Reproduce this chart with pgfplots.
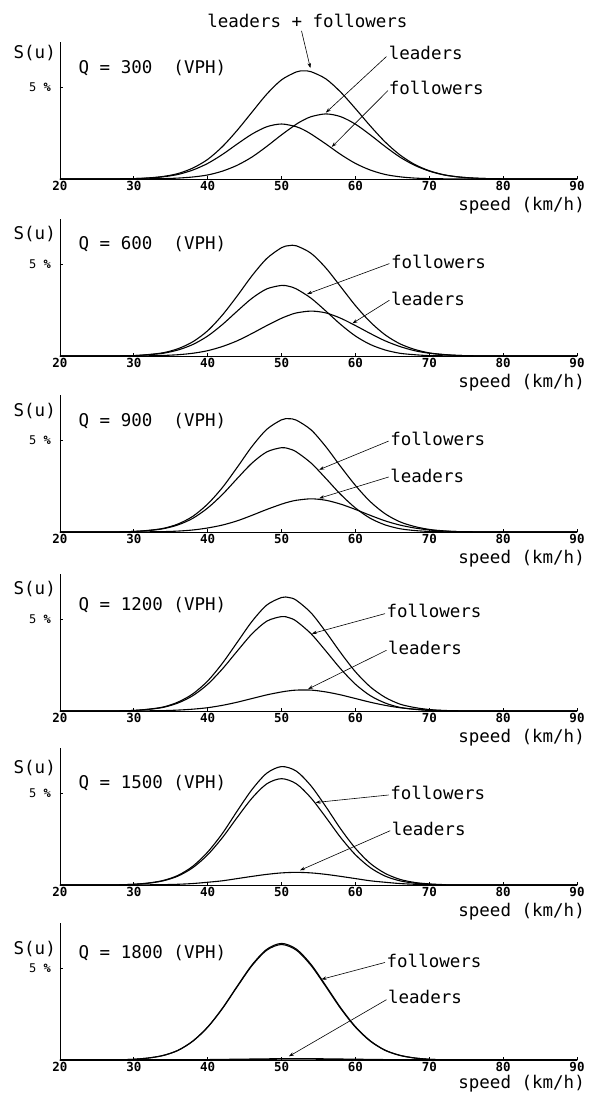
\documentclass[border=0pt]{standalone}
\usepackage{fontspec}
\usepackage{pgfplots}
\pgfplotsset{compat=1.18}
\usepackage{pgfplotstable}
\usetikzlibrary{arrows.meta}
\newfontfamily\plotfont{DejaVu Sans Mono}
\newcommand\labelfont{\plotfont\fontsize{17.5}{20}\selectfont}
\newcommand\tickfont{\plotfont\bfseries\fontsize{12.5}{14}\selectfont}
\newcommand\pctfont{\plotfont\fontsize{12}{13}\selectfont}

% u = speed, F = followers, L = leaders, S = leaders + followers (percent)
\pgfplotstableread{
u F L S
20 0 0 0
26 0.00 0.00 0.00
28 0.01 0.00 0.01
30 0.02 0.00 0.02
32 0.05 0.01 0.06
34 0.12 0.02 0.14
36 0.25 0.05 0.30
38 0.49 0.11 0.60
40 0.85 0.22 1.07
42 1.34 0.43 1.77
44 1.91 0.75 2.66
46 2.45 1.20 3.65
48 2.85 1.78 4.63
50 3.00 2.41 5.41
52 2.85 2.99 5.84
53 2.68 3.22 5.90
54 2.45 3.40 5.85
56 1.91 3.55 5.46
58 1.34 3.40 4.74
60 0.85 2.99 3.84
62 0.49 2.41 2.90
64 0.25 1.78 2.03
66 0.12 1.20 1.32
68 0.05 0.75 0.80
70 0.02 0.43 0.45
72 0.01 0.22 0.23
74 0.00 0.11 0.11
76 0.00 0.05 0.05
78 0.00 0.02 0.02
80 0.00 0.01 0.01
90 0 0 0
}\tabA
\pgfplotstableread{
u F L S
20 0 0 0
26 0.00 0.00 0.00
28 0.01 0.00 0.01
30 0.02 0.00 0.02
32 0.07 0.01 0.08
34 0.15 0.03 0.18
36 0.33 0.07 0.40
38 0.63 0.15 0.78
40 1.09 0.29 1.38
42 1.72 0.52 2.24
44 2.45 0.83 3.28
46 3.15 1.23 4.38
48 3.66 1.66 5.32
50 3.85 2.06 5.91
51 3.80 2.22 6.02
52 3.66 2.35 6.01
54 3.15 2.45 5.60
56 2.45 2.35 4.80
58 1.72 2.06 3.78
60 1.09 1.66 2.75
62 0.63 1.23 1.86
64 0.33 0.83 1.16
66 0.15 0.52 0.67
68 0.07 0.29 0.36
70 0.02 0.15 0.17
72 0.01 0.07 0.08
74 0.00 0.03 0.03
76 0.00 0.01 0.01
78 0 0 0
90 0 0 0
}\tabB
\pgfplotstableread{
u F L S
20 0 0 0
26 0.00 0.00 0.00
28 0.01 0.00 0.01
30 0.03 0.00 0.03
32 0.08 0.01 0.09
34 0.18 0.02 0.20
36 0.39 0.05 0.44
38 0.75 0.11 0.86
40 1.31 0.22 1.53
42 2.05 0.38 2.43
44 2.92 0.61 3.53
46 3.76 0.91 4.67
48 4.37 1.23 5.60
50 4.60 1.52 6.12
51 4.54 1.64 6.18
52 4.37 1.73 6.10
54 3.76 1.81 5.57
56 2.92 1.73 4.65
58 2.05 1.52 3.57
60 1.31 1.23 2.54
62 0.75 0.91 1.66
64 0.39 0.61 1.00
66 0.18 0.38 0.56
68 0.08 0.22 0.30
70 0.03 0.11 0.14
72 0.01 0.05 0.06
74 0.00 0.02 0.02
76 0.00 0.01 0.01
78 0 0 0
90 0 0 0
}\tabC
\pgfplotstableread{
u F L S
20 0 0 0
26 0.00 0.00 0.00
28 0.01 0.00 0.01
30 0.03 0.00 0.03
32 0.09 0.01 0.10
34 0.20 0.02 0.22
36 0.44 0.05 0.49
38 0.84 0.10 0.94
40 1.46 0.18 1.64
42 2.30 0.31 2.61
44 3.27 0.48 3.75
46 4.21 0.68 4.89
48 4.90 0.88 5.78
50 5.15 1.04 6.19
51 5.09 1.10 6.19
52 4.90 1.14 6.04
54 4.21 1.14 5.35
56 3.27 1.04 4.31
58 2.30 0.88 3.18
60 1.46 0.68 2.14
62 0.84 0.48 1.32
64 0.44 0.31 0.75
66 0.20 0.18 0.38
68 0.09 0.10 0.19
70 0.03 0.05 0.08
72 0.01 0.02 0.03
74 0.00 0.01 0.01
76 0 0 0
90 0 0 0
}\tabD
\pgfplotstableread{
u F L S
20 0 0 0
26 0.00 0.00 0.00
28 0.01 0.00 0.01
30 0.04 0.00 0.04
32 0.10 0.01 0.11
34 0.23 0.02 0.25
36 0.49 0.04 0.53
38 0.95 0.08 1.03
40 1.65 0.15 1.80
42 2.59 0.23 2.82
44 3.69 0.35 4.04
46 4.74 0.47 5.21
48 5.52 0.58 6.10
50 5.80 0.66 6.46
52 5.52 0.69 6.21
54 4.74 0.66 5.40
56 3.69 0.58 4.27
58 2.59 0.47 3.06
60 1.65 0.35 2.00
62 0.95 0.23 1.18
64 0.49 0.15 0.64
66 0.23 0.08 0.31
68 0.10 0.04 0.14
70 0.04 0.02 0.06
72 0.01 0.01 0.02
74 0 0 0
90 0 0 0
}\tabE
\pgfplotstableread{
u F L S
20 0 0 0
26 0.00 0.00 0.00
28 0.01 0.00 0.01
30 0.04 0.00 0.04
32 0.11 0.00 0.11
34 0.25 0.00 0.25
36 0.53 0.00 0.53
38 1.03 0.01 1.04
40 1.79 0.01 1.80
42 2.81 0.02 2.83
44 4.00 0.03 4.03
46 5.15 0.04 5.19
48 5.99 0.05 6.04
50 6.30 0.06 6.36
52 5.99 0.06 6.05
54 5.15 0.06 5.21
56 4.00 0.05 4.05
58 2.81 0.04 2.85
60 1.79 0.03 1.82
62 1.03 0.02 1.05
64 0.53 0.01 0.54
66 0.25 0.01 0.26
68 0.11 0.00 0.11
70 0.04 0.00 0.04
72 0.01 0.00 0.01
74 0 0 0
90 0 0 0
}\tabF

\pgfplotsset{
  panel/.style={
    scale only axis, width=517pt, height=137.5pt,
    xmin=20, xmax=90, ymin=0, ymax=7.5,
    axis lines=left, axis line style={-, line width=0.9pt},
    xtick={20,30,...,90}, ytick={5}, yticklabels={},
    tick align=inside, major tick length=3pt,
    tick style={line width=0.8pt, black},
    xticklabel style={font=\tickfont, inner sep=1pt, yshift=-1pt},
    /pgf/number format/assume math mode=true,
    clip=false, anchor=south west,
  },
  curve/.style={black, line width=1.1pt, smooth, no marks},
}
\tikzset{
  pointer/.style={-{Stealth[length=5pt,width=3.5pt]}, line width=0.6pt},
  lab/.style={font=\labelfont, inner sep=0pt},
}
% common decorations of one panel: y label, 5 % tick label, x label
\newcommand\paneltext[2]{%
  \node[lab, anchor=east] at ([xshift=-4pt]axis cs:20,#1) {S(u)};
  \node[anchor=east, inner sep=0pt, font=\pctfont] at ([xshift=-9pt]axis cs:20,5) {5 {\bfseries\%}};
  \node[lab, anchor=east] at ([xshift=8pt,yshift=#2]axis cs:90,0) {speed (km/h)};
}

\begin{document}
\begin{tikzpicture}
\useasboundingbox (0,0) rectangle (600pt,1096pt);

% Q = 300
\begin{axis}[panel, at={(60pt,917pt)}]
\addplot[curve] table[x=u,y=S] \tabA;
\addplot[curve] table[x=u,y=F] \tabA;
\addplot[curve] table[x=u,y=L] \tabA;
\paneltext{6.87}{-27pt}
\node[lab, anchor=west] at (axis cs:22.5,6.04) {Q = 300~~(VPH)};
\node[lab] at (axis cs:53.5,8.6) {leaders + followers};
\draw[pointer] (axis cs:52.7,8.08) -- (axis cs:53.9,6.05);
\node[lab, anchor=west] at (axis cs:64.5,6.87) {leaders};
\draw[pointer] (axis cs:64.2,6.68) -- (axis cs:56.0,3.62);
\node[lab, anchor=west] at (axis cs:64.5,4.95) {followers};
\draw[pointer] (axis cs:64.4,4.82) -- (axis cs:56.8,1.75);
\end{axis}

% Q = 600
\begin{axis}[panel, at={(60pt,740pt)}]
\addplot[curve] table[x=u,y=S] \tabB;
\addplot[curve] table[x=u,y=F] \tabB;
\addplot[curve] table[x=u,y=L] \tabB;
\paneltext{6.67}{-27pt}
\node[lab, anchor=west] at (axis cs:22.5,6.13) {Q = 600~~(VPH)};
\node[lab, anchor=west] at (axis cs:64.8,5.13) {followers};
\draw[pointer] (axis cs:64.6,5.04) -- (axis cs:53.45,3.38);
\node[lab, anchor=west] at (axis cs:64.8,3.13) {leaders};
\draw[pointer] (axis cs:64.6,3.04) -- (axis cs:59.6,1.78);
\end{axis}

% Q = 900
\begin{axis}[panel, at={(60pt,564pt)}]
\addplot[curve] table[x=u,y=S] \tabC;
\addplot[curve] table[x=u,y=F] \tabC;
\addplot[curve] table[x=u,y=L] \tabC;
\paneltext{6.6}{-27pt}
\node[lab, anchor=west] at (axis cs:22.5,6.06) {Q = 900~~(VPH)};
\node[lab, anchor=west] at (axis cs:64.7,5.09) {followers};
\draw[pointer] (axis cs:64.5,4.96) -- (axis cs:55.1,3.4);
\node[lab, anchor=west] at (axis cs:64.7,3.08) {leaders};
\draw[pointer] (axis cs:64.5,3.0) -- (axis cs:55.1,1.84);
\end{axis}

% Q = 1200
\begin{axis}[panel, at={(60pt,385pt)}]
\addplot[curve] table[x=u,y=S] \tabD;
\addplot[curve] table[x=u,y=F] \tabD;
\addplot[curve] table[x=u,y=L] \tabD;
\paneltext{6.67}{-27pt}
\node[lab, anchor=west] at (axis cs:22.5,5.76) {Q = 1200 (VPH)};
\node[lab, anchor=west] at (axis cs:64.2,5.45) {followers};
\draw[pointer] (axis cs:64.0,5.31) -- (axis cs:54.1,4.22);
\node[lab, anchor=west] at (axis cs:64.4,3.45) {leaders};
\draw[pointer] (axis cs:64.2,3.31) -- (axis cs:53.6,1.2);
\end{axis}

% Q = 1500
\begin{axis}[panel, at={(60pt,211pt)}]
\addplot[curve] table[x=u,y=S] \tabE;
\addplot[curve] table[x=u,y=F] \tabE;
\addplot[curve] table[x=u,y=L] \tabE;
\paneltext{6.39}{-27pt}
\node[lab, anchor=west] at (axis cs:22.5,5.56) {Q = 1500 (VPH)};
\node[lab, anchor=west] at (axis cs:64.7,5.0) {followers};
\draw[pointer] (axis cs:64.5,4.91) -- (axis cs:54.6,4.5);
\node[lab, anchor=west] at (axis cs:64.9,3.06) {leaders};
\draw[pointer] (axis cs:64.7,2.96) -- (axis cs:52.5,0.8);
\end{axis}

% Q = 1800
\begin{axis}[panel, at={(60pt,36pt)}]
\addplot[curve] table[x=u,y=S] \tabF;
\addplot[curve] table[x=u,y=F] \tabF;
\addplot[curve, line width=1.6pt] table[x=u,y=L] \tabF;
\paneltext{6.08}{-24pt}
\node[lab, anchor=west] at (axis cs:22.5,5.81) {Q = 1800 (VPH)};
\node[lab, anchor=west] at (axis cs:64.2,5.40) {followers};
\draw[pointer] (axis cs:64.0,5.32) -- (axis cs:55.4,4.4);
\node[lab, anchor=west] at (axis cs:64.4,3.42) {leaders};
\draw[pointer] (axis cs:64.2,3.29) -- (axis cs:51.0,0.2);
\end{axis}
\end{tikzpicture}
\end{document}
